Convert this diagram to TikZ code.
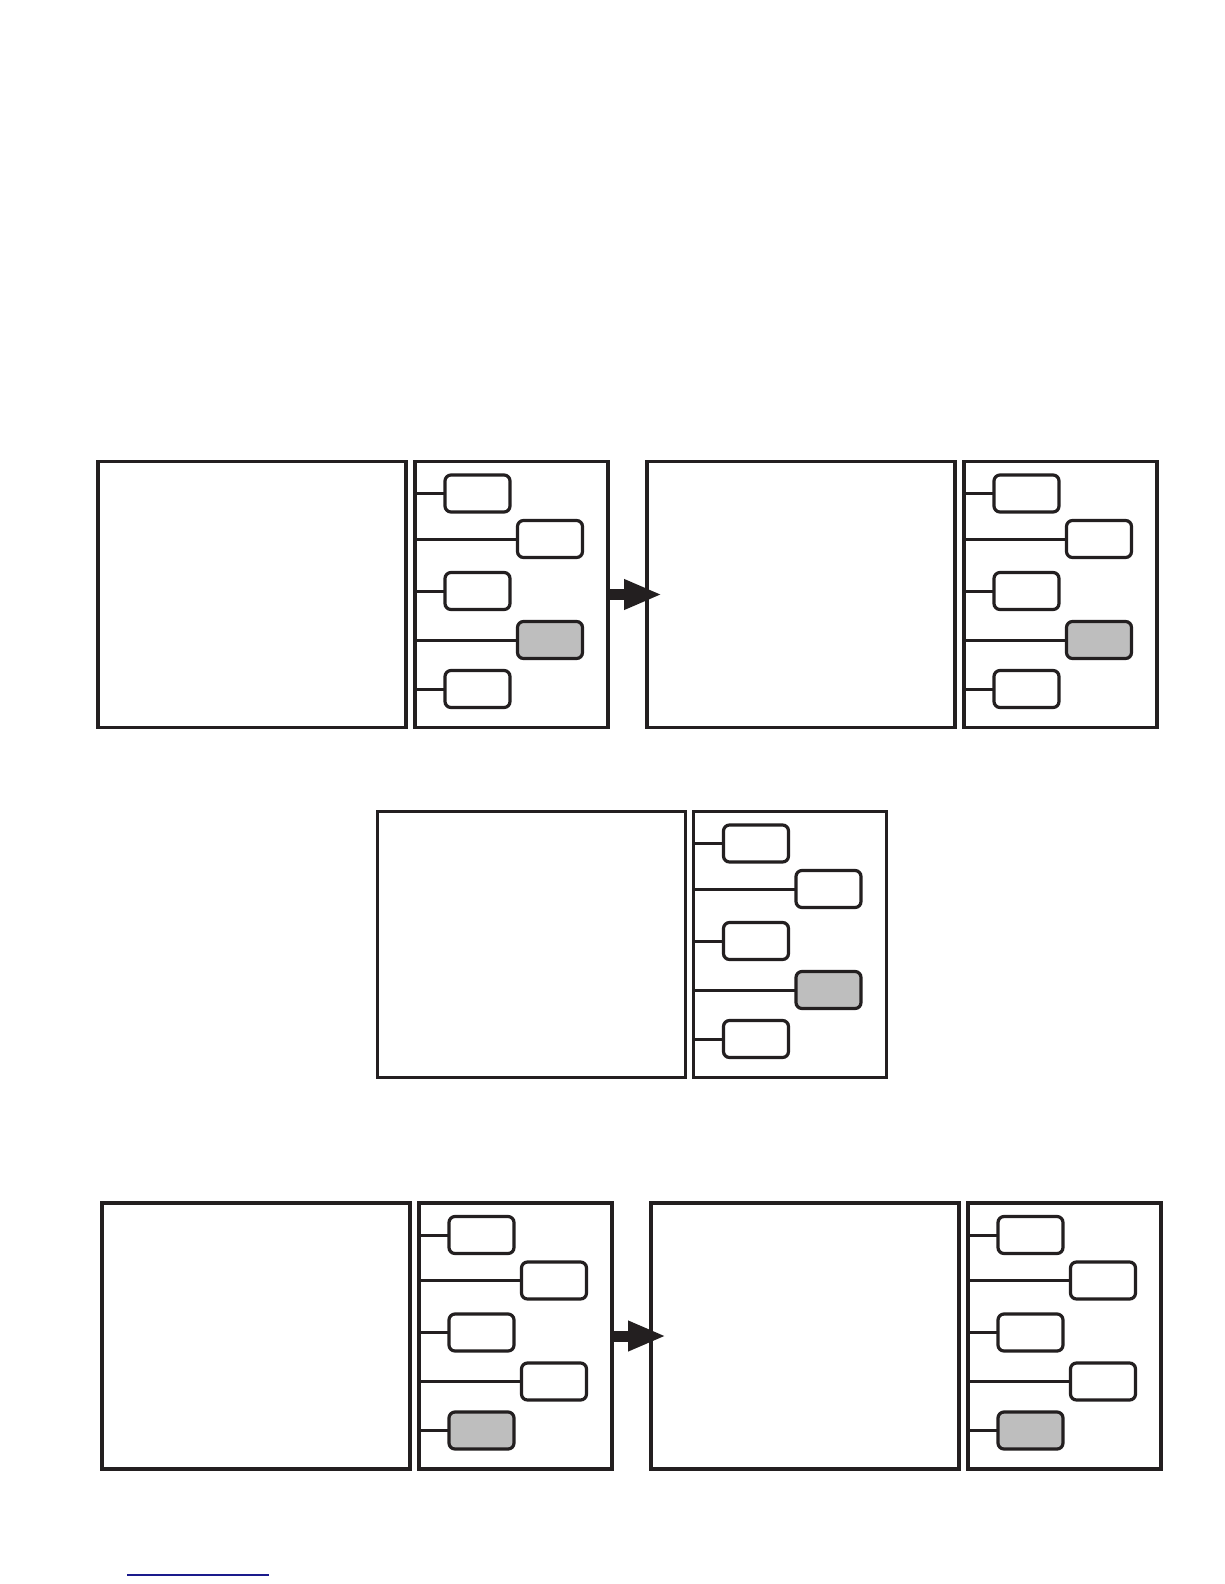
\documentclass[tikz,border=0pt]{standalone}
\usepackage{tikz}
\usetikzlibrary{positioning,arrows.meta,calc}
\definecolor{ink}{HTML}{231F20}
\definecolor{itemGrey}{HTML}{BEBEBE}
\definecolor{linkBlue}{HTML}{1A1A8C}
\tikzset{
  screen/.style={rectangle, draw=ink, line width=3.4pt, inner sep=0pt, outer sep=0pt,
                 minimum width=308pt, minimum height=266pt},
  menu/.style={rectangle, draw=ink, line width=3.4pt, inner sep=0pt, outer sep=0pt,
               minimum width=193pt, minimum height=266pt},
  item/.style={rectangle, rounded corners=6pt, draw=ink, line width=3.2pt, inner sep=0pt,
               outer sep=0pt, minimum width=65pt, minimum height=37pt},
  branch/.style={draw=ink, line width=3pt},
  bigflow/.style={-{Triangle[length=38pt,width=28pt]}, line width=11pt, draw=ink}
}
% five menu entries hanging off the left edge of a menu panel; #2 = grey entry
\newcommand{\menuitems}[2]{%
  \foreach \k/\dx/\dy in {1/62.5/32, 2/135/77.5, 3/62.5/129.5, 4/135/178.5, 5/62.5/227.5}{
    \ifnum\k=#2\relax\def\itemfill{itemGrey}\else\def\itemfill{white}\fi
    \node[item, fill=\itemfill] (#1-\k) at ($(#1.north west)+(\dx,\dy)$) {};
    \draw[branch] (#1.west |- #1-\k.west) -- (#1-\k.west);
  }}

\begin{document}
\begin{tikzpicture}[x=1pt, y=-1pt]
\useasboundingbox[fill=white] (0,0) rectangle (1224,1584);

% row 1
\node[screen] (scrA) at (252,594.5) {};
\node[menu, right=9pt of scrA] (menuA) {};
\node[screen, right=39pt of menuA] (scrB) {};
\node[menu, right=9pt of scrB] (menuB) {};
\menuitems{menuA}{4}
\menuitems{menuB}{4}
\coordinate (tipA) at ($(scrB.west)+(15,0)$);
\draw[bigflow] (menuA.east) -- (tipA);

% row 2
\node[screen] (scrC) at (531.5,944.5) {};
\node[menu, right=8pt of scrC] (menuC) {};
\menuitems{menuC}{4}

% row 3
\node[screen] (scrD) at (256,1336) {};
\node[menu, right=9pt of scrD] (menuD) {};
\node[screen, right=39pt of menuD] (scrE) {};
\node[menu, right=9pt of scrE] (menuE) {};
\menuitems{menuD}{5}
\menuitems{menuE}{5}
\coordinate (tipB) at ($(scrE.west)+(15,0)$);
\draw[bigflow] (menuD.east) -- (tipB);

% link underline at the foot
\coordinate (lnkL) at (127,1575);
\coordinate (lnkR) at (269,1575);
\draw[linkBlue, line width=2pt] (lnkL) -- (lnkR);
\end{tikzpicture}
\end{document}
